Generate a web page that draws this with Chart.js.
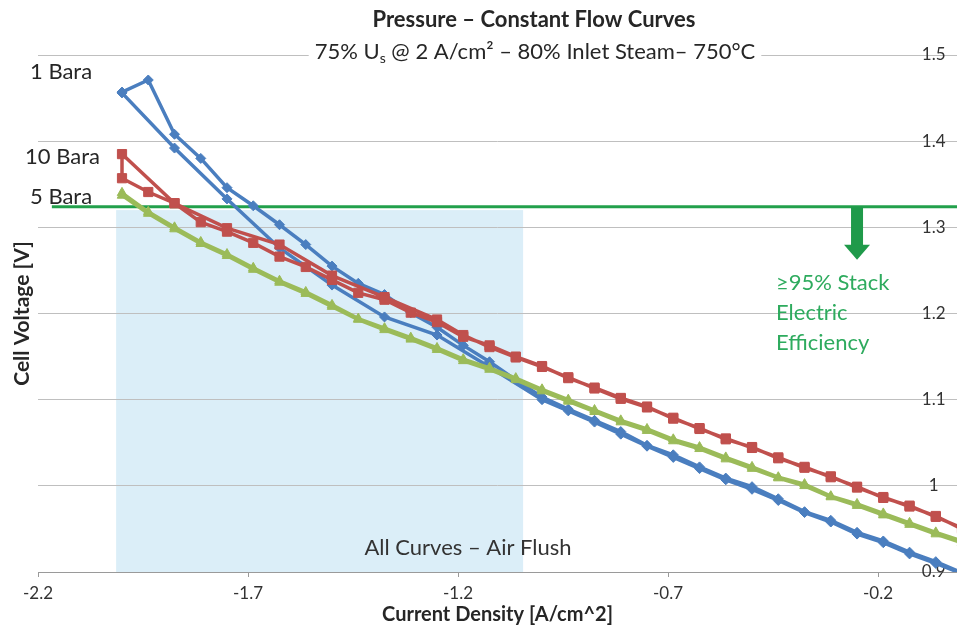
<!DOCTYPE html>
<html><head><meta charset="utf-8">
<script src="https://cdn.jsdelivr.net/npm/chart.js@4.4.0/dist/chart.umd.min.js"></script>
<style>html,body{margin:0;padding:0;background:#fff;}#wrap{width:957px;height:629px;position:relative;}</style>
</head><body><div id="wrap"><canvas id="c" width="957" height="629"></canvas></div>
<script>
// ---- data ----
const currentDensity = [-2, -1.9375, -1.875, -1.8125, -1.75, -1.6875, -1.625, -1.5625, -1.5, -1.4375, -1.375,
  -1.3125, -1.25, -1.1875, -1.125, -1.0625, -1, -0.9375, -0.875, -0.8125, -0.75, -0.6875, -0.625, -0.5625,
  -0.5, -0.4375, -0.375, -0.3125, -0.25, -0.1875, -0.125, -0.0625, 0];

// 1 Bara (blue)
const bara1Sweep = [1.457, 1.471, 1.408, 1.380, 1.346, 1.325, 1.303, 1.280, 1.255, 1.235, 1.222, 1.201, 1.184,
  1.163, 1.144, 1.123, 1.103, 1.089, 1.076, 1.063, 1.047, 1.036, 1.022, 1.009, 0.999, 0.985, 0.970, 0.960,
  0.946, 0.936, 0.923, 0.912, 0.899];
const bara1Return = [1.456, null, 1.392, null, 1.333, null, 1.276, null, 1.233, null, 1.196, null, 1.175,
  null, 1.138, null, 1.100, 1.087, 1.074, 1.060, 1.046, 1.033, 1.020, 1.007, 0.996, 0.983, 0.969, 0.958,
  0.944, 0.934, 0.921, 0.910, 0.898];

// 10 Bara (red)
const bara10Sweep = [1.385, null, 1.328, null, 1.299, null, 1.280, null, 1.244, null, 1.219, null, 1.193,
  1.175, 1.161, 1.149, 1.138, 1.126, 1.113, 1.101, 1.091, 1.079, 1.066, 1.055, 1.044, 1.033, 1.021, 1.011,
  0.998, 0.987, 0.976, 0.965, 0.950];
const bara10Return = [1.357, 1.341, 1.328, 1.306, 1.295, 1.282, 1.266, 1.254, 1.239, 1.224, 1.216, 1.201,
  1.190, 1.173, 1.163, 1.150, 1.139, 1.125, 1.114, 1.102, 1.092, 1.078, 1.067, 1.054, 1.045, 1.032, 1.022,
  1.010, 0.999, 0.986, 0.977, 0.964, 0.951];

// 5 Bara (green)
const bara5Sweep = [1.340, 1.318, 1.300, 1.283, 1.269, 1.253, 1.238, 1.225, 1.210, 1.194, 1.183, 1.172, 1.160,
  1.147, 1.137, 1.125, 1.112, 1.100, 1.088, 1.076, 1.066, 1.054, 1.045, 1.033, 1.022, 1.010, 1.002, 0.988,
  0.979, 0.968, 0.957, 0.946, 0.936];
const bara5Return = [1.337, 1.316, 1.298, 1.281, 1.267, 1.251, 1.236, 1.223, 1.208, 1.193, 1.181, 1.170, 1.158,
  1.145, 1.135, 1.123, 1.110, 1.098, 1.086, 1.074, 1.064, 1.052, 1.043, 1.031, 1.020, 1.009, 1.000, 0.987,
  0.977, 0.966, 0.955, 0.944, 0.934];

const xTickValues = [-2.2, -1.7, -1.2, -0.7, -0.2];
const xTickLabels = ['-2.2', '-1.7', '-1.2', '-0.7', '-0.2'];
const yTickValues = [0.9, 1.0, 1.1, 1.2, 1.3, 1.4, 1.5];
const yTickLabels = ['0.9', '1', '1.1', '1.2', '1.3', '1.4', '1.5'];
const xRange = [-2.2, -0.012];
const yRange = [0.9, 1.5];

const airFlushRange = [-2.014, -1.045];   // shaded band, current density
const airFlushTop = 1.320;                // shaded band top, V
const efficiencyVoltage = 1.324;          // >=95% efficiency threshold, V
const efficiencyLineStart = -2.167;
const efficiencyArrowX = -0.25;

// ---- build loops (sweep out, then back) ----
function loop(xs, out, back) {
  const pts = [];
  for (let k = xs.length - 1; k >= 0; k--) if (out[k] !== null) pts.push({x: xs[k], y: out[k]});
  for (let k = 0; k < xs.length; k++) if (back[k] !== null) pts.push({x: xs[k], y: back[k]});
  return pts;
}

const FONT = 'Lato';
const BLUE = '#4a7ebf', RED = '#c0504d', GREEN = '#9bbb59';
const TEXT = '#262626';

const overlay = {
  id: 'overlay',
  beforeDraw(chart) {
    const {ctx, scales: {x, y}} = chart;
    ctx.save();
    const x0 = x.getPixelForValue(airFlushRange[0]), x1 = x.getPixelForValue(airFlushRange[1]);
    const y0 = y.getPixelForValue(airFlushTop), y1 = y.getPixelForValue(yRange[0]);
    ctx.fillStyle = '#dbeef8';
    ctx.fillRect(x0, y0, x1 - x0, y1 - y0);
    ctx.restore();
  },
  beforeDatasetsDraw(chart) {
    const {ctx, scales: {x, y}, chartArea} = chart;
    ctx.save();
    const ly = y.getPixelForValue(efficiencyVoltage);
    ctx.strokeStyle = '#22a04b';
    ctx.lineWidth = 3;
    ctx.beginPath();
    ctx.moveTo(x.getPixelForValue(efficiencyLineStart), ly);
    ctx.lineTo(chartArea.right, ly);
    ctx.stroke();
    // arrow
    const ax = x.getPixelForValue(efficiencyArrowX);
    ctx.fillStyle = '#1f9a4a';
    ctx.fillRect(ax - 6, ly, 12, 39);
    ctx.beginPath();
    ctx.moveTo(ax - 13, ly + 38);
    ctx.lineTo(ax + 13, ly + 38);
    ctx.lineTo(ax, ly + 53);
    ctx.closePath();
    ctx.fill();
    ctx.restore();
  },
  afterDraw(chart) {
    const {ctx} = chart;
    ctx.save();
    ctx.textBaseline = 'middle';
    // title
    ctx.fillStyle = TEXT;
    ctx.textAlign = 'center';
    ctx.font = `bold 22px ${FONT}`;
    ctx.fillText('Pressure \u2013 Constant Flow Curves', 534, 20);
    // subtitle with subscript
    const big = `22px ${FONT}`, small = `14px ${FONT}`;
    const parts = [
      {t: '75% U', f: big, dy: 0},
      {t: 's', f: small, dy: 6},
      {t: ' @ 2 A/cm\u00b2 \u2013 80% Inlet Steam\u2013 750\u00b0C', f: big, dy: 0}
    ];
    let w = 0;
    parts.forEach(p => { ctx.font = p.f; p.w = ctx.measureText(p.t).width; w += p.w; });
    let sx = 535 - w / 2;
    ctx.fillStyle = '#ffffff';
    ctx.fillRect(sx - 6, 41, w + 12, 24);
    ctx.fillStyle = TEXT;
    ctx.textAlign = 'left';
    parts.forEach(p => { ctx.font = p.f; ctx.fillText(p.t, sx, 52 + p.dy); sx += p.w; });
    // pressure labels
    ctx.font = `22px ${FONT}`;
    ctx.fillText('1 Bara', 30, 72);
    ctx.fillText('10 Bara', 25, 157);
    ctx.fillText('5 Bara', 30, 197);
    // air flush
    ctx.textAlign = 'center';
    ctx.font = `22px ${FONT}`;
    ctx.fillStyle = '#333333';
    ctx.fillText('All Curves \u2013 Air Flush', 468, 548);
    // efficiency text
    ctx.textAlign = 'left';
    ctx.font = `22px ${FONT}`;
    ctx.fillStyle = '#2eab5e';
    ctx.fillText('\u226595% Stack', 776, 283);
    ctx.fillText('Electric', 776, 313);
    ctx.fillText('Efficiency', 776, 343);
    ctx.restore();
  }
};

const ds = (label, data, color, style, radius) => ({
  label, data, showLine: true, borderColor: color, backgroundColor: color,
  borderWidth: 3.5, pointStyle: style, pointRadius: radius, pointBorderWidth: 1,
  pointBorderColor: color, pointBackgroundColor: color, tension: 0
});

new Chart(document.getElementById('c'), {
  type: 'scatter',
  data: {
    datasets: [
      ds('10 Bara', loop(currentDensity, bara10Sweep, bara10Return), RED, 'rect', 6.5),
      ds('5 Bara', loop(currentDensity, bara5Sweep, bara5Return), GREEN, 'triangle', 5.5),
      ds('1 Bara', loop(currentDensity, bara1Sweep, bara1Return), BLUE, 'rectRot', 5)
    ]
  },
  options: {
    responsive: false,
    animation: false,
    layout: {autoPadding: false, padding: {top: 55, right: 0, bottom: 0, left: 0}},
    plugins: {legend: {display: false}, tooltip: {enabled: false}, title: {display: false}},
    scales: {
      x: {
        type: 'linear', position: 'bottom', min: xRange[0], max: xRange[1],
        afterBuildTicks: s => { s.ticks = xTickValues.map(v => ({value: v})); },
        afterFit: s => { s.height = 57; s.paddingLeft = 0; s.paddingRight = 0; },
        ticks: {callback: (v, i) => xTickLabels[i], font: {family: FONT, size: 17}, color: '#333333',
          padding: 6, maxRotation: 0, autoSkip: false},
        grid: {display: true, drawOnChartArea: false, drawTicks: true, tickLength: 5, color: '#9a9a9a'},
        border: {display: true, color: '#9a9a9a', width: 1},
        title: {display: true, text: 'Current Density [A/cm^2]', color: TEXT,
          font: {family: FONT, size: 20, weight: 'bold'}, padding: {top: 0, bottom: 2}}
      },
      y: {
        type: 'linear', position: 'right', min: yRange[0], max: yRange[1],
        afterBuildTicks: s => { s.ticks = yTickValues.map(v => ({value: v})); },
        afterFit: s => { s.width = 0; s.paddingTop = 0; s.paddingBottom = 0; },
        ticks: {mirror: true, crossAlign: 'center', padding: -11.5, callback: (v, i) => yTickLabels[i],
          font: {family: FONT, size: 17}, color: '#333333'},
        grid: {color: '#bfbfbf', lineWidth: 1, drawTicks: false},
        border: {display: false}
      },
      yTitle: {
        type: 'linear', position: 'left', min: yRange[0], max: yRange[1], display: true,
        afterFit: s => { s.width = 38; },
        ticks: {display: false}, grid: {display: false, drawTicks: false}, border: {display: false},
        title: {display: true, text: 'Cell Voltage [V]', color: TEXT,
          font: {family: FONT, size: 21, weight: 'bold'}, padding: {top: 10, bottom: 3}}
      }
    }
  },
  plugins: [overlay]
});
</script></body></html>
